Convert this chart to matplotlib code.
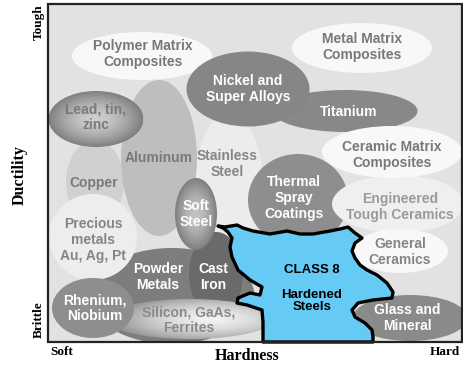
import matplotlib
matplotlib.use('Agg')
import matplotlib.pyplot as plt
from matplotlib.patches import Ellipse, Rectangle, Polygon
from matplotlib.colors import to_rgb
import numpy as np

# material regions (pixel coordinates of the original diagram)
names = ['Polymer Matrix\nComposites', 'Metal Matrix\nComposites', 'Titanium',
         'Nickel and\nSuper Alloys', 'Copper', 'Stainless\nSteel', 'Aluminum',
         'Precious\nmetals\nAu, Ag, Pt', 'Powder\nMetals', 'Cast\nIron',
         'Thermal\nSpray\nCoatings', 'Engineered\nTough Ceramics',
         'Ceramic Matrix\nComposites', 'General\nCeramics', 'Glass and\nMineral',
         'Rhenium,\nNiobium']
cx = [142, 362, 345, 248, 95, 229, 159, 93, 172, 216, 298, 398, 392, 400, 410, 93]
cy = [56, 48, 111, 89, 182, 184, 158, 237, 296, 274, 200, 204, 152, 251, 318, 308]
ew = [140, 140, 145, 123, 58, 68, 76, 88, 165, 54, 100, 132, 140, 96, 115, 82]
eh = [48, 50, 42, 75, 84, 140, 156, 86, 96, 84, 92, 58, 52, 44, 46, 60]
fills = ['#f8f8f8', '#f8f8f8', '#888888', '#868686', '#d0d0d0', '#ececec', '#bebebe',
         '#ededed', '#7d7d7d', '#6a6a6a', '#8e8e8e', '#efefef', '#f8f8f8', '#f8f8f8',
         '#8a8a8a', '#8e8e8e']
txtc = ['#787878', '#787878', 'white', 'white', '#7a7a7a', '#858585', '#787878',
        '#858585', 'white', 'white', 'white', '#9a9a9a', '#787878', '#858585',
        'white', 'white']
tx = [143, 362, 349, 248, 94, 227, 159, 93, 158, 213, 294, 400, 392, 400, 407, 95]
ty = [54, 47, 112, 89, 183, 164, 158, 240, 277, 277, 198, 207, 155, 252, 318, 308]

# shaded (radial gradient) regions
g_names = ['Lead, tin,\nzinc', 'Soft\nSteel', 'Silicon, GaAs,\nFerrites']
g_cx = [96, 196, 190]
g_cy = [119, 214, 319]
g_w = [95, 42, 168]
g_h = [56, 72, 40]
g_in = ['#cfcfcf', '#c4c4c4', '#f2f2f2']
g_out = ['#7e7e7e', '#7e7e7e', '#8c8c8c']
g_tc = ['#7a7a7a', 'white', '#8a8a8a']
g_ty = [117, 214, 320]
g_tx = [96, 196, 189]
g_z = [5, 9, 8]

# class 8 outline
blob = [(218, 226), (225, 227), (237, 225), (243, 228), (253, 231), (270, 234),
        (287, 231), (300, 234), (313, 234), (330, 231), (340, 229), (348, 227),
        (355, 233), (362, 238), (355, 243), (352, 251), (355, 258), (360, 265),
        (367, 270), (377, 275), (387, 283), (393, 292), (392, 298), (373, 300),
        (358, 303), (352, 310), (355, 317), (365, 323), (372, 330), (373, 337),
        (373, 342), (263, 342), (263, 322), (262, 310), (247, 305), (237, 303),
        (238, 298), (250, 293), (260, 295), (262, 287), (250, 280), (238, 270),
        (232, 257), (230, 247), (232, 238), (228, 232), (223, 228)]

fig = plt.figure(figsize=(4.64, 3.68), dpi=100)
ax = fig.add_axes([0, 0, 1, 1])
ax.axis('off')

frame = Rectangle((48, 4), 414, 338, facecolor='#e2e2e2', edgecolor='none', zorder=0)
ax.add_patch(frame)

zorders = [2, 2, 2, 4, 2, 2, 4, 6, 5, 6, 5, 6, 7, 6, 6, 9]
for i in range(len(names)):
    e = Ellipse((cx[i], cy[i]), ew[i], eh[i], facecolor=fills[i], edgecolor='none',
                zorder=zorders[i])
    ax.add_patch(e)
    e.set_clip_path(frame)
    ax.text(tx[i], ty[i], names[i], color=txtc[i], ha='center', va='center',
            fontsize=10, fontweight='bold', family='Liberation Sans',
            linespacing=1.15, zorder=20)

xs = np.linspace(-1, 1, 220)
X, Y = np.meshgrid(xs, xs)
for i in range(len(g_names)):
    e = Ellipse((g_cx[i], g_cy[i]), g_w[i], g_h[i], facecolor='none', edgecolor='none')
    ax.add_patch(e)
    off = 0.25 if i == 2 else 0.0
    R = np.clip(np.hypot(X - off, Y) / (1 + off), 0, 1)
    ci, co = np.array(to_rgb(g_in[i])), np.array(to_rgb(g_out[i]))
    img = ci + (co - ci) * (R ** 1.6)[..., None]
    im = ax.imshow(img, extent=(g_cx[i] - g_w[i] / 2, g_cx[i] + g_w[i] / 2,
                                g_cy[i] + g_h[i] / 2, g_cy[i] - g_h[i] / 2),
                   zorder=g_z[i], interpolation='bilinear')
    im.set_clip_path(e)
    ax.text(g_tx[i], g_ty[i], g_names[i], color=g_tc[i], ha='center', va='center',
            fontsize=10, fontweight='bold', family='Liberation Sans',
            linespacing=1.15, zorder=20)

poly = Polygon(blob, closed=True, facecolor='#66cbf4', edgecolor='black', lw=2.4,
               joinstyle='round', zorder=12)
ax.add_patch(poly)
ax.text(312, 270, 'CLASS 8', ha='center', va='center', fontsize=9.5,
        fontweight='bold', family='Liberation Sans', zorder=20)
ax.text(312, 301, 'Hardened\nSteels', ha='center', va='center', fontsize=9.5,
        fontweight='bold', family='Liberation Sans', linespacing=1.0, zorder=20)

ax.add_patch(Rectangle((48, 4), 414, 338, facecolor='none', edgecolor='#222222',
                       lw=1.6, zorder=30))

serif = dict(family='Liberation Serif', fontweight='bold')
ax.text(39, 22, 'Tough', rotation=90, ha='center', va='center', fontsize=9.5, **serif)
ax.text(20, 175, 'Ductility', rotation=90, ha='center', va='center', fontsize=11.5, **serif)
ax.text(39, 320, 'Brittle', rotation=90, ha='center', va='center', fontsize=9.5, **serif)
ax.text(62, 352, 'Soft', ha='center', va='center', fontsize=9.5, **serif)
ax.text(247, 356, 'Hardness', ha='center', va='center', fontsize=11.5, **serif)
ax.text(445, 352, 'Hard', ha='center', va='center', fontsize=9.5, **serif)

ax.set_xlim(0, 464)
ax.set_ylim(368, 0)
ax.set_aspect('auto')
fig.savefig('out.png', dpi=100, facecolor='white')
